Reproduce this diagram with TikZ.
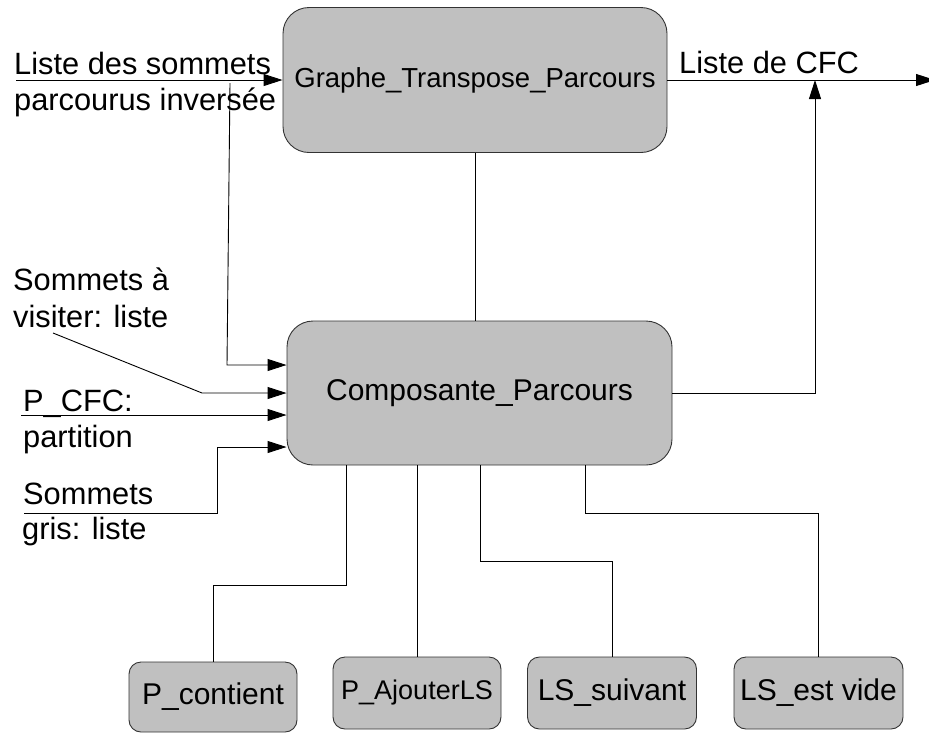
\documentclass[tikz,border=0pt]{standalone}
\usepackage{fontspec}
\setmainfont{Liberation Sans}
\usetikzlibrary{arrows.meta}
\definecolor{boxgray}{HTML}{C0C0C0}
\definecolor{edgegray}{HTML}{333333}
\tikzset{
  proc/.style={draw=edgegray, line width=0.9pt, fill=boxgray, rounded corners=#1, inner sep=0pt, align=center},
  lbl/.style={inner sep=0pt, anchor=base west, font=\fontsize{30.8}{36}\selectfont},
  wire/.style={line width=0.9pt, draw=black},
  arr/.style={wire, -{Triangle[length=19pt,width=12pt]}},
}
\begin{document}
\begin{tikzpicture}[x=1pt,y=-1pt]
\useasboundingbox (0,0) rectangle (929,732);
% boxes
\node[proc=26pt, minimum width=384pt, minimum height=145pt, font=\fontsize{27.5}{32}\selectfont] (graphe) at (475,80) {Graphe\_Transpose\_Parcours};
\node[proc=26pt, minimum width=385pt, minimum height=144pt, font=\fontsize{30}{36}\selectfont] (comp) at (479.5,393) {Composante\_Parcours};
\node[proc=12pt, minimum width=168pt, minimum height=70pt, font=\fontsize{30}{36}\selectfont] (pcont) at (213,697) {P\_contient};
\node[proc=12pt, minimum width=168pt, minimum height=72pt, font=\fontsize{27}{32}\selectfont] (pajout) at (417,693) {P\_AjouterLS};
\node[proc=12pt, minimum width=169pt, minimum height=72pt, font=\fontsize{30}{36}\selectfont] (lssuiv) at (612,693) {LS\_suivant};
\node[proc=12pt, minimum width=169pt, minimum height=72pt, font=\fontsize{30}{36}\selectfont] (lsvide) at (818.5,693) {LS\_est vide};
% labels
\node[lbl] (l1a) at (14,74) {Liste des sommets};
\node[lbl] (l1b) at (14,110) {parcourus inversée};
\node[lbl] (lcfc) at (679,73) {Liste de CFC};
\node[lbl] (l2a) at (13,290) {Sommets à};
\node[lbl] (l2b) at (13,327) {visiter: liste};
\node[lbl] (l3a) at (23,411) {P\_CFC:};
\node[lbl] (l3b) at (23,447) {partition};
\node[lbl] (l4a) at (23,504) {Sommets};
\node[lbl] (l4b) at (22,539) {gris: liste};
% coordinates
\coordinate (in1) at (16,80);
\coordinate (outend) at (935,80);
\coordinate (cfcjoin) at (815,80);
\coordinate (v1top) at (230,83);
\coordinate (v1bot) at (227,365);
\coordinate (d2a) at (53,333);
\coordinate (d2b) at (202,393);
\coordinate (in3) at (21,415);
\coordinate (in4a) at (24,513);
\coordinate (in4b) at (217,513);
\coordinate (in4c) at (217,447);
% connectors
\draw[arr] (in1) -- (graphe.west);
\draw[arr] (graphe.east) -- (outend);
\draw[arr] (comp.east) -| (cfcjoin);
\draw[wire] (graphe.south) -- (graphe.south |- comp.north);
\draw[arr] (v1top) -- (v1bot) -- ([yshift=28pt]comp.west);
\draw[arr] (d2a) -- (d2b) -- (comp.west);
\draw[arr] (in3) -- ([yshift=-22pt]comp.west);
\draw[arr] (in4a) -- (in4b) -- (in4c) -- ([yshift=-54pt]comp.west);
\draw[wire] ([xshift=-133.5pt]comp.south) -- ++(0,120) -| (pcont.north);
\draw[wire] (pajout.north) -- (pajout.north |- comp.south);
\draw[wire] ([xshift=0.5pt]comp.south) -- ++(0,96) -| (lssuiv.north);
\draw[wire] ([xshift=105.5pt]comp.south) -- ++(0,48) -| (lsvide.north);
\end{tikzpicture}
\end{document}
